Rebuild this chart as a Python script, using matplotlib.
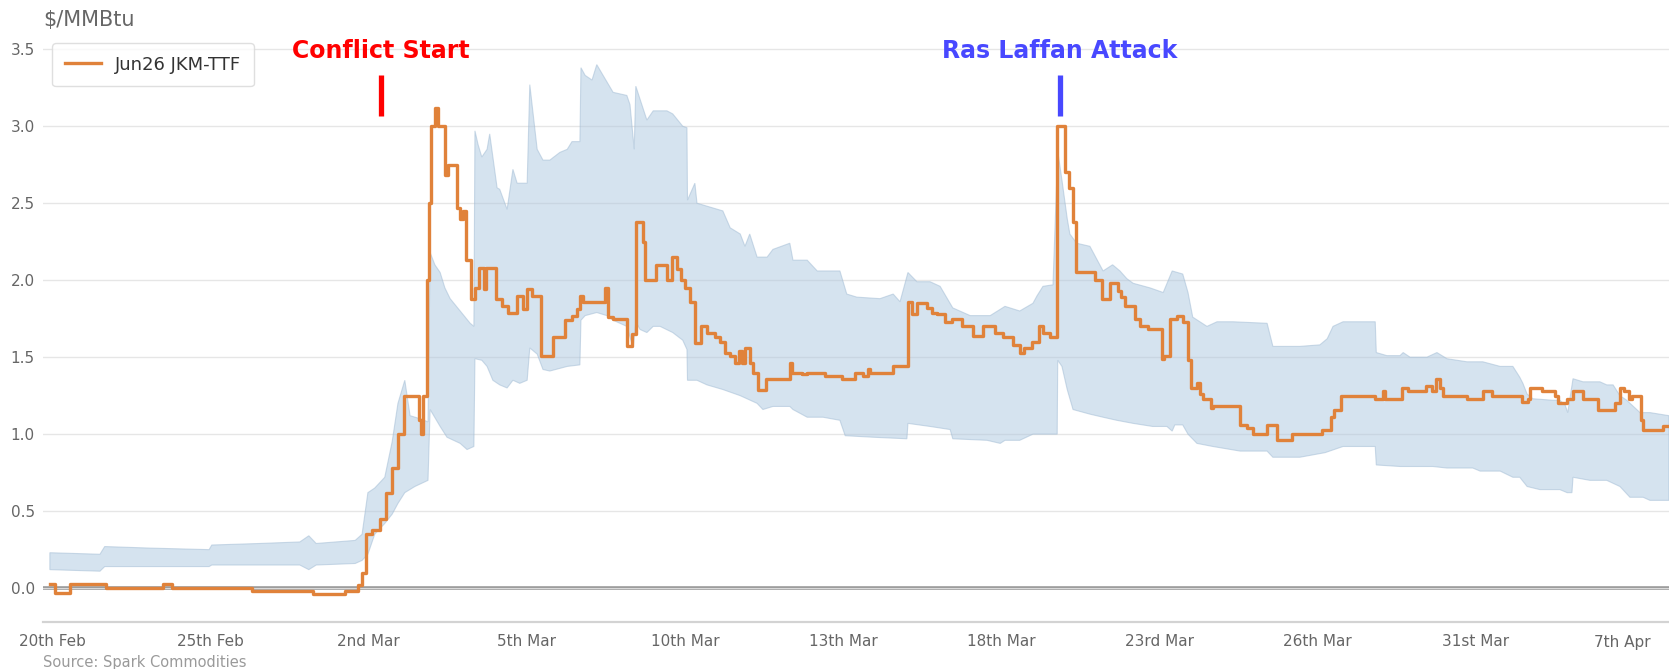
import matplotlib
matplotlib.use("Agg")
import matplotlib.pyplot as plt
import numpy as np

plt.rcParams["font.family"] = ["DejaVu Sans"]

# x = trading-day index (0 = 20th Feb), ticks every 3 sessions
tick_pos = [0, 3, 6, 9, 12, 15, 18, 21, 24, 27, 29.77]
tick_labels = ["20th Feb", "25th Feb", "2nd Mar", "5th Mar", "10th Mar", "13th Mar",
               "18th Mar", "23rd Mar", "26th Mar", "31st Mar", "7th Apr"]

# Jun26 JKM-TTF spread ($/MMBtu), step series
spread_t = [-0.04, 0.06, 0.34, 1.02, 2.10, 2.28, 3.79, 4.95, 5.56, 5.80,
            5.88, 5.95, 6.07, 6.22, 6.33, 6.45, 6.56, 6.67, 6.96, 7.00,
            7.03, 7.11, 7.15, 7.19, 7.26, 7.32, 7.45, 7.51, 7.68, 7.74,
            7.79, 7.85, 7.94, 8.02, 8.10, 8.19, 8.23, 8.42, 8.53, 8.65,
            8.82, 8.93, 9.01, 9.10, 9.27, 9.50, 9.73, 9.86, 9.95, 10.01,
            10.07, 10.49, 10.54, 10.64, 10.90, 11.00, 11.07, 11.21, 11.24, 11.45,
            11.66, 11.76, 11.85, 11.93, 12.00, 12.10, 12.19, 12.31, 12.42, 12.57,
            12.67, 12.76, 12.86, 12.95, 13.03, 13.08, 13.14, 13.23, 13.29, 13.39,
            13.54, 13.99, 14.03, 14.22, 14.32, 14.66, 14.98, 15.23, 15.38, 15.47,
            15.51, 15.95, 16.23, 16.31, 16.40, 16.59, 16.69, 16.78, 16.93, 17.06,
            17.25, 17.46, 17.65, 17.88, 18.03, 18.22, 18.35, 18.43, 18.58, 18.71,
            18.79, 18.92, 19.06, 19.21, 19.28, 19.36, 19.42, 19.78, 19.91, 20.06,
            20.21, 20.27, 20.35, 20.53, 20.63, 20.78, 21.05, 21.09, 21.20, 21.33,
            21.44, 21.54, 21.60, 21.71, 21.77, 21.82, 21.98, 22.01, 22.53, 22.66,
            22.77, 23.04, 23.23, 23.51, 24.08, 24.25, 24.31, 24.44, 25.09, 25.24,
            25.28, 25.60, 25.71, 26.05, 26.17, 26.24, 26.32, 26.37, 26.83, 27.13,
            27.30, 27.87, 27.99, 28.02, 28.25, 28.50, 28.56, 28.73, 28.84, 29.03,
            29.31, 29.64, 29.73, 29.81, 29.90, 29.96, 30.13, 30.17, 30.55, 30.66]
spread_v = [0.03, -0.03, 0.03, 0.00, 0.03, 0.00, -0.02, -0.04, -0.02, 0.02,
            0.10, 0.35, 0.38, 0.45, 0.62, 0.78, 1.00, 1.25, 1.09, 1.00,
            1.25, 2.00, 2.50, 3.00, 3.12, 3.00, 2.68, 2.75, 2.47, 2.40,
            2.45, 2.13, 1.88, 1.95, 2.08, 1.94, 2.08, 1.88, 1.83, 1.79,
            1.90, 1.81, 1.94, 1.90, 1.51, 1.63, 1.74, 1.77, 1.81, 1.90,
            1.86, 1.95, 1.76, 1.75, 1.57, 1.65, 2.38, 2.25, 2.00, 2.10,
            2.00, 2.15, 2.07, 2.00, 1.95, 1.86, 1.59, 1.70, 1.66, 1.63,
            1.60, 1.53, 1.51, 1.46, 1.54, 1.46, 1.56, 1.46, 1.40, 1.29,
            1.36, 1.46, 1.40, 1.39, 1.40, 1.38, 1.36, 1.40, 1.38, 1.42,
            1.40, 1.44, 1.86, 1.78, 1.85, 1.82, 1.79, 1.78, 1.73, 1.75,
            1.70, 1.64, 1.70, 1.66, 1.63, 1.58, 1.53, 1.56, 1.60, 1.70,
            1.66, 1.63, 3.00, 2.70, 2.60, 2.38, 2.05, 2.00, 1.88, 1.98,
            1.93, 1.89, 1.83, 1.75, 1.70, 1.68, 1.49, 1.51, 1.75, 1.77,
            1.73, 1.48, 1.30, 1.33, 1.26, 1.23, 1.17, 1.18, 1.06, 1.04,
            1.00, 1.06, 0.96, 1.00, 1.03, 1.11, 1.16, 1.25, 1.23, 1.28,
            1.23, 1.30, 1.28, 1.31, 1.28, 1.36, 1.30, 1.25, 1.23, 1.28,
            1.25, 1.21, 1.23, 1.30, 1.28, 1.25, 1.20, 1.23, 1.28, 1.23,
            1.16, 1.20, 1.30, 1.28, 1.23, 1.25, 1.09, 1.03, 1.05, 1.05]

# range band, upper edge
upper_t = [-0.04, 0.91, 1.00, 1.86, 2.98, 3.03, 3.94, 4.70, 4.87, 5.01,
           5.75, 5.88, 5.99, 6.12, 6.31, 6.45, 6.56, 6.69, 6.79, 6.98,
           7.13, 7.17, 7.26, 7.36, 7.45, 7.55, 7.74, 7.93, 8.00, 8.02,
           8.08, 8.15, 8.25, 8.30, 8.36, 8.44, 8.49, 8.63, 8.74, 8.82,
           9.01, 9.06, 9.20, 9.31, 9.44, 9.63, 9.77, 9.86, 10.01, 10.03,
           10.11, 10.24, 10.33, 10.45, 10.64, 10.90, 10.96, 11.04, 11.07, 11.28,
           11.40, 11.66, 11.77, 11.96, 12.04, 12.05, 12.19, 12.23, 12.72, 12.86,
           13.05, 13.14, 13.23, 13.37, 13.56, 13.67, 13.99, 14.05, 14.32, 14.51,
           14.94, 15.07, 15.26, 15.70, 15.95, 16.08, 16.23, 16.40, 16.65, 16.84,
           17.08, 17.41, 17.79, 18.07, 18.35, 18.60, 18.68, 18.79, 18.98, 19.07,
           19.15, 19.25, 19.30, 19.43, 19.68, 19.93, 20.11, 20.25, 20.38, 20.50,
           20.82, 21.07, 21.24, 21.44, 21.54, 21.63, 21.90, 22.09, 22.39, 23.04,
           23.15, 23.66, 24.04, 24.18, 24.29, 24.48, 25.09, 25.11, 25.31, 25.56,
           25.62, 25.75, 26.07, 26.26, 26.45, 26.83, 27.13, 27.46, 27.70, 27.83,
           27.89, 27.97, 28.08, 28.46, 28.59, 28.69, 28.74, 28.84, 29.03, 29.35,
           29.48, 29.60, 29.73, 29.86, 30.11, 30.30, 30.66]
upper_v = [0.23, 0.22, 0.27, 0.26, 0.25, 0.28, 0.29, 0.30, 0.34, 0.29,
           0.31, 0.35, 0.62, 0.65, 0.72, 0.95, 1.20, 1.35, 1.12, 1.10,
           1.08, 2.18, 2.10, 2.05, 1.95, 1.88, 1.80, 1.72, 1.70, 2.97,
           2.88, 2.80, 2.85, 2.95, 2.80, 2.60, 2.59, 2.46, 2.72, 2.63,
           2.63, 3.27, 2.85, 2.78, 2.78, 2.83, 2.85, 2.90, 2.90, 3.38,
           3.33, 3.30, 3.40, 3.33, 3.22, 3.20, 3.14, 2.85, 3.26, 3.04,
           3.10, 3.10, 3.08, 3.00, 2.99, 2.52, 2.63, 2.50, 2.45, 2.34,
           2.30, 2.22, 2.30, 2.15, 2.15, 2.20, 2.24, 2.13, 2.13, 2.06,
           2.06, 1.91, 1.89, 1.88, 1.91, 1.86, 2.05, 1.99, 1.99, 1.96,
           1.82, 1.77, 1.77, 1.83, 1.80, 1.85, 1.90, 1.96, 1.97, 2.84,
           2.65, 2.40, 2.30, 2.24, 2.22, 2.06, 2.10, 2.06, 2.01, 1.98,
           1.95, 1.92, 2.06, 2.04, 1.92, 1.76, 1.70, 1.73, 1.73, 1.72,
           1.57, 1.57, 1.58, 1.62, 1.70, 1.73, 1.73, 1.53, 1.51, 1.51,
           1.53, 1.50, 1.50, 1.53, 1.49, 1.47, 1.47, 1.44, 1.44, 1.37,
           1.33, 1.26, 1.23, 1.22, 1.22, 1.19, 1.14, 1.36, 1.34, 1.34,
           1.32, 1.32, 1.25, 1.22, 1.14, 1.14, 1.12]

# range band, lower edge
lower_t = [-0.04, 0.91, 1.00, 2.98, 3.03, 4.70, 4.87, 5.01, 5.75, 5.88,
           5.99, 6.12, 6.31, 6.45, 6.56, 6.69, 6.88, 7.13, 7.17, 7.36,
           7.49, 7.74, 7.87, 8.00, 8.02, 8.15, 8.25, 8.36, 8.49, 8.63,
           8.74, 8.87, 9.01, 9.06, 9.20, 9.31, 9.44, 9.77, 10.01, 10.03,
           10.11, 10.33, 10.52, 10.64, 10.90, 11.02, 11.07, 11.15, 11.28, 11.40,
           11.53, 11.77, 11.96, 12.04, 12.05, 12.23, 12.42, 12.72, 13.05, 13.37,
           13.48, 13.67, 13.99, 14.05, 14.32, 14.62, 14.94, 15.04, 15.57, 16.21,
           16.23, 16.65, 17.03, 17.08, 17.73, 17.98, 18.07, 18.35, 18.60, 18.98,
           19.06, 19.07, 19.15, 19.25, 19.36, 19.68, 19.93, 20.19, 20.50, 20.87,
           21.14, 21.24, 21.29, 21.44, 21.54, 21.71, 22.01, 22.53, 23.04, 23.15,
           23.66, 24.14, 24.48, 25.09, 25.11, 25.56, 26.18, 26.45, 26.94, 27.08,
           27.46, 27.70, 27.83, 27.97, 28.21, 28.59, 28.73, 28.82, 28.84, 29.16,
           29.48, 29.73, 29.92, 30.17, 30.30, 30.66]
lower_v = [0.12, 0.11, 0.14, 0.14, 0.15, 0.15, 0.12, 0.15, 0.16, 0.18,
           0.22, 0.35, 0.42, 0.48, 0.55, 0.62, 0.66, 0.70, 1.16, 1.05,
           0.98, 0.94, 0.90, 0.92, 1.49, 1.48, 1.44, 1.35, 1.32, 1.30,
           1.35, 1.33, 1.35, 1.56, 1.52, 1.42, 1.41, 1.44, 1.45, 1.74,
           1.77, 1.79, 1.77, 1.74, 1.70, 1.56, 1.73, 1.68, 1.66, 1.70,
           1.70, 1.66, 1.61, 1.55, 1.35, 1.35, 1.32, 1.29, 1.25, 1.20,
           1.16, 1.18, 1.18, 1.16, 1.11, 1.11, 1.09, 0.99, 0.98, 0.97,
           1.07, 1.05, 1.03, 0.97, 0.96, 0.94, 0.96, 0.96, 1.00, 1.00,
           1.00, 1.48, 1.44, 1.29, 1.16, 1.13, 1.11, 1.09, 1.07, 1.05,
           1.05, 1.02, 1.06, 1.06, 1.00, 0.94, 0.92, 0.89, 0.89, 0.85,
           0.85, 0.88, 0.92, 0.92, 0.80, 0.79, 0.79, 0.78, 0.78, 0.76,
           0.76, 0.72, 0.72, 0.66, 0.64, 0.64, 0.62, 0.62, 0.72, 0.70,
           0.70, 0.66, 0.59, 0.59, 0.57, 0.57]

# event markers: label, session index, colour
events = [("Conflict Start", 6.24, "#ff0000"),
          ("Ras Laffan Attack", 19.11, "#4848ff")]

W, H = 1669, 669
fig = plt.figure(figsize=(W / 100, H / 100), dpi=100)
ax = fig.add_axes([43 / W, 47 / H, 1626 / W, 582 / H])

# band behind everything
band_x = np.concatenate([upper_t, lower_t[::-1]])
band_y = np.concatenate([upper_v, lower_v[::-1]])
ax.fill(band_x, band_y, facecolor="#adc8e0", alpha=0.5, edgecolor="#9fbad3",
        linewidth=0.8, zorder=2)

ax.step(spread_t, spread_v, where="post", color="#e0823a", linewidth=2.4,
        label="Jun26 JKM-TTF", zorder=4)

# zero line (double grey)
ax.axhline(0, color="#9a9a9a", linewidth=2.6, zorder=3)
ax.axhline(0, color="#d9d9d9", linewidth=0.8, zorder=3)

for label, t, col in events:
    ax.plot([t, t], [3.065, 3.335], color=col, linewidth=3.8,
            solid_capstyle="butt", zorder=5)
    ax.text(t, 3.49, label, color=col, fontsize=17, fontweight="bold",
            ha="center", va="center", zorder=5)

ax.set_xlim(-0.17, 30.66)
ax.set_ylim(-0.22, 3.56)
ax.set_yticks(np.arange(0, 3.51, 0.5))
ax.set_yticklabels([f"{v:.1f}" for v in np.arange(0, 3.51, 0.5)])
ax.set_xticks(tick_pos)
ax.set_xticklabels(tick_labels)
ax.tick_params(axis="both", length=0, labelsize=11, labelcolor="#666666")
ax.tick_params(axis="y", pad=6)
ax.tick_params(axis="x", pad=9)
ax.grid(True, axis="y", color="#e6e6e6", linewidth=1.0, zorder=1)
ax.set_axisbelow(True)
for s in ["top", "right", "left"]:
    ax.spines[s].set_visible(False)
ax.spines["bottom"].set_color("#d3d3d3")
ax.spines["bottom"].set_linewidth(1.6)

leg = ax.legend(loc="upper left", bbox_to_anchor=(0.0055, 0.995), fontsize=13,
                frameon=True, fancybox=True, edgecolor="#d8d8d8",
                handlelength=2.0, borderpad=0.7, borderaxespad=0,
                labelcolor="#333333")
leg.get_frame().set_linewidth(1.0)

fig.text(43 / W, 1 - 20 / H, "$/MMBtu", fontsize=15, color="#666666",
         ha="left", va="center")
fig.text(43 / W, 1 - 663 / H, "Source: Spark Commodities", fontsize=10.5,
         color="#9a9a9a", ha="left", va="center")

fig.savefig("out.png", dpi=100)
plt.close(fig)
